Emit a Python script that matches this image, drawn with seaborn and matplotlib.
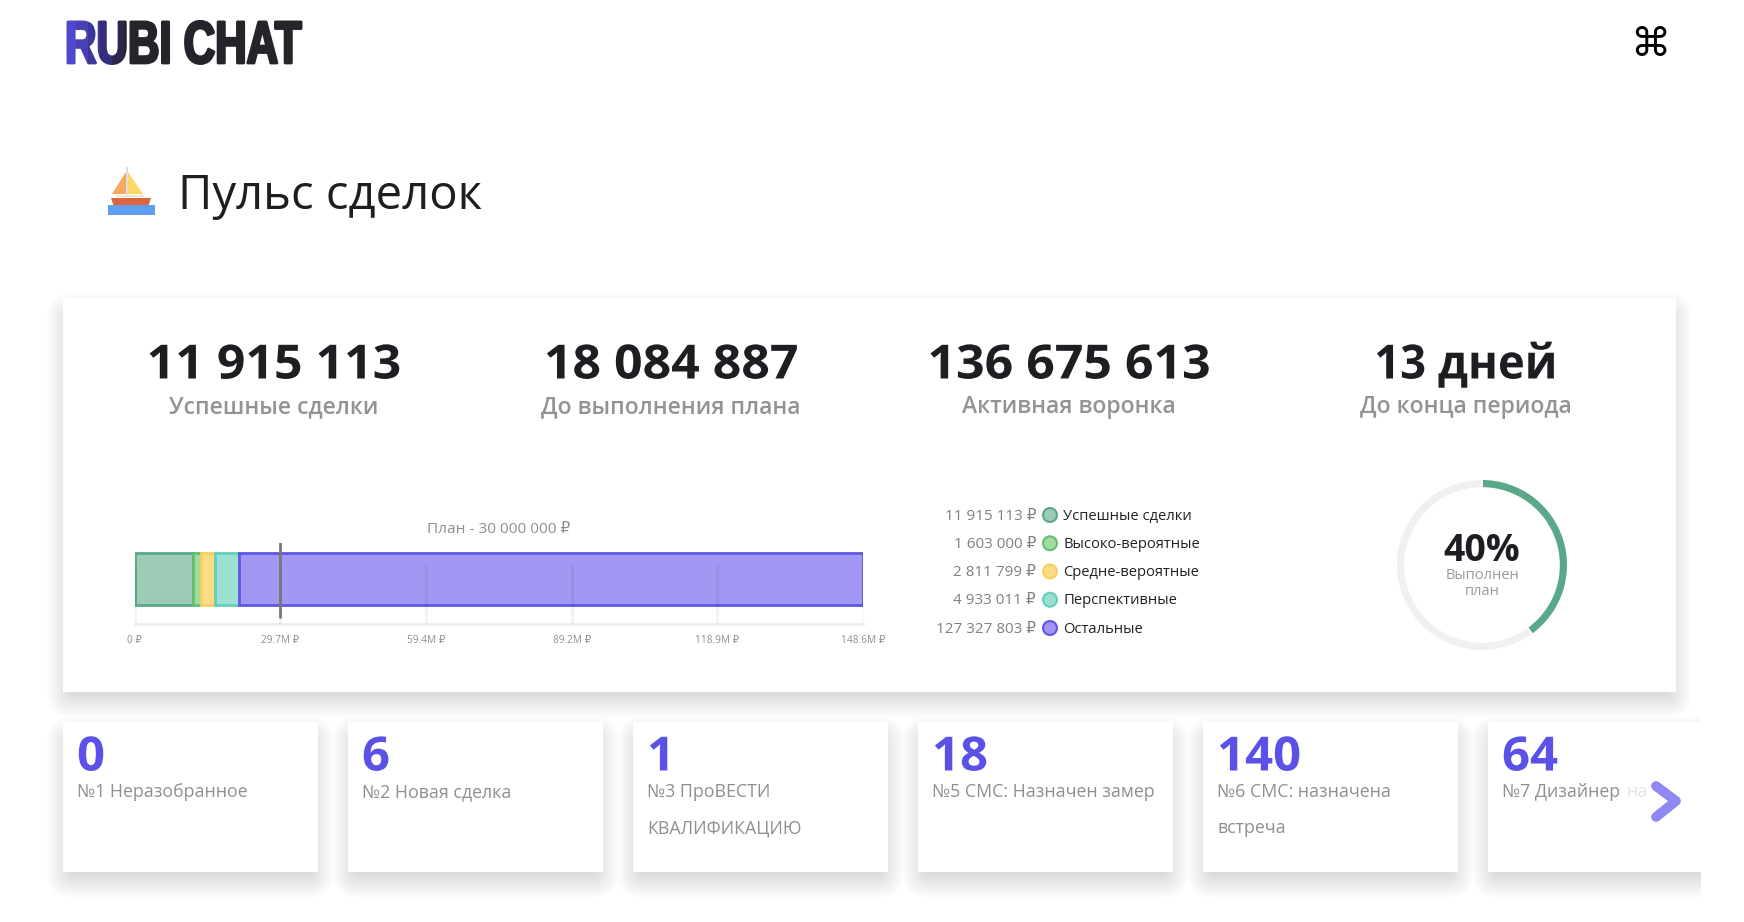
#!/usr/bin/env python
"""
Sales pulse dashboard: stacked funnel bar, legend, plan donut and stage cards
"""

import matplotlib
matplotlib.use('Agg')
import matplotlib.pyplot as plt
import matplotlib.patheffects as pe
import seaborn as sns
from matplotlib.colors import to_rgb
from matplotlib.patches import Rectangle, Polygon, FancyBboxPatch
from matplotlib.transforms import Affine2D, Bbox

W, H = 1744, 922
BASE_FONT = ['Open Sans', 'DejaVu Sans']

sns.set_style("white")
plt.rcParams['font.family'] = BASE_FONT

# Data
stat_values = ['11 915 113', '18 084 887', '136 675 613', '13 дней']
stat_labels = ['Успешные сделки', 'До выполнения плана', 'Активная воронка', 'До конца периода']
stat_stretch = [1.06, 1.06, 1.06, 0.96]

segment_names = ['Успешные сделки', 'Высоко-вероятные', 'Средне-вероятные', 'Перспективные', 'Остальные']
segment_amounts = [11915113, 1603000, 2811799, 4933011, 127327803]
segment_labels = ['11 915 113 ₽', '1 603 000 ₽', '2 811 799 ₽', '4 933 011 ₽', '127 327 803 ₽']
segment_fill = ['#9ccbb6', '#a0dc9f', '#fcdc85', '#9be0d1', '#a098f2']
segment_edge = ['#5aa88a', '#62c070', '#f8d060', '#62cfb8', '#5f55e6']

axis_ticks = [0, 29.7, 59.4, 89.2, 118.9, 148.6]
axis_labels = ['0 ₽', '29.7M ₽', '59.4M ₽', '89.2M ₽', '118.9M ₽', '148.6M ₽']
plan_value = 29.7
plan_label = 'План - 30 000 000 ₽'

plan_done = [40, 60]

card_numbers = ['0', '6', '1', '18', '140', '64']
card_lines = [['№1 Неразобранное'], ['№2 Новая сделка'], ['№3 ПроВЕСТИ', 'КВАЛИФИКАЦИЮ'],
              ['№5 СМС: Назначен замер'], ['№6 СМС: назначена', 'встреча'], ['№7 Дизайнер']]
card_left = [63, 348, 633, 918, 1203, 1488]

# colour bands of the logo, left to right, the last one runs to the end
logo_band_right = [76, 88, 100, 112, 124, 320]
logo_band_color = ['#5048cc', '#4840b4', '#3e379a', '#332e7c', '#2a2650', '#24242a']

BLUE = '#5b50e8'
GRAY = '#8f8f8f'
DARK = '#1c1e21'


class Squeeze(pe.AbstractPathEffect):
    # stretches a text around one x, there is no condensed font installed
    def __init__(self, sx, x0):
        super().__init__()
        self.sx = sx
        self.x0 = x0

    def transform(self, affine):
        return affine + Affine2D().translate(-self.x0, 0).scale(self.sx, 1).translate(self.x0, 0)

    def draw_path(self, renderer, gc, tpath, affine, rgbFace=None):
        renderer.draw_path(gc, tpath, self.transform(affine), rgbFace)


class LogoBands(Squeeze):
    # heavy condensed wordmark, the first letters fade from purple to black
    def draw_path(self, renderer, gc, tpath, affine, rgbFace=None):
        left = 0
        for right, color in zip(logo_band_right, logo_band_color):
            gc0 = renderer.new_gc()
            gc0.copy_properties(gc)
            gc0.set_clip_rectangle(Bbox([[left, 0], [right, H]]))
            gc0.set_foreground(color)
            gc0.set_linewidth(2.0)
            renderer.draw_path(gc0, tpath, self.transform(affine), to_rgb(color))
            gc0.restore()
            left = right


def px_axes(left, top, right, bottom):
    return fig.add_axes([left / W, 1 - bottom / H, (right - left) / W, (bottom - top) / H])


def card(ax, x0, y0, x1, y1):
    # stacked translucent boxes make the soft shadow
    steps = 20
    for i in range(steps):
        r = 16 - 28 * i / steps
        ax.add_patch(FancyBboxPatch((x0 - r, y0 + 10 - r), x1 - x0 + 2 * r, y1 - y0 + 2 * r,
                                    boxstyle='round,pad=0,rounding_size=%.1f' % max(r + 10, 1),
                                    fc='black', ec='none', alpha=0.0065, zorder=1))
    ax.add_patch(Rectangle((x0, y0), x1 - x0, y1 - y0, fc='white', ec='none', zorder=2))


fig = plt.figure(figsize=(W / 100, H / 100), dpi=100, facecolor='white')

# ============================================================================
# Page layer in pixel coordinates
# ============================================================================
page = fig.add_axes([0, 0, 1, 1])
page.set_xlim(0, W)
page.set_ylim(H, 0)
page.axis('off')

# Logo
page.text(65, 63, 'RUBI CHAT', fontsize=43, fontweight='bold', color='#24242a', va='baseline',
          family='Liberation Sans', zorder=5, path_effects=[LogoBands(0.73, 65)])

page.text(1650, 45, '⌘', fontsize=29, color='black', ha='center', va='center',
          family='DejaVu Sans', zorder=5)

# Boat icon
page.add_patch(Polygon([(126, 172), (126, 194), (112, 194)], fc='#f4a860', ec='none', zorder=3))
page.add_patch(Polygon([(128, 172), (128, 194), (143, 194)], fc='#fbd768', ec='none', zorder=3))
page.add_patch(Rectangle((126, 167), 2, 30, fc='#dddddd', ec='none', zorder=3))
page.add_patch(Rectangle((116, 195), 28, 2, fc='#f5e3c8', ec='none', zorder=3))
page.add_patch(Polygon([(111, 198), (151, 198), (148, 207), (114, 207)], fc='#dc6642', ec='none', zorder=3))
page.add_patch(Rectangle((108, 205), 47, 10, fc='#5f9ff0', ec='none', zorder=4))

page.text(178, 209, 'Пульс сделок', fontsize=34, color=DARK, va='baseline', zorder=5)

# Main card
card(page, 63, 298, 1676, 692)
for cx, value, label, stretch in zip([274, 671, 1069, 1466], stat_values, stat_labels, stat_stretch):
    page.text(cx, 366, value, fontsize=34, fontweight='bold', color=DARK, ha='center', va='center',
              zorder=5, path_effects=[Squeeze(stretch, cx)])
    page.text(cx, 407, label, fontsize=16.5, fontweight='semibold', color='#939393', ha='center', va='center', zorder=5)

page.text(499, 529, plan_label, fontsize=11.1, color=GRAY, ha='center', va='center', zorder=5)

# Small cards
for x0, number, lines in zip(card_left, card_numbers, card_lines):
    card(page, x0, 722, x0 + 255, 872)
    page.text(x0 + 14, 758, number, fontsize=34, fontweight='bold', color=BLUE, va='center', zorder=5,
              path_effects=[Squeeze(1.04, x0 + 14)])
    for k, line in enumerate(lines):
        page.text(x0 + 14, 792 + k * 36, line, fontsize=12.8, color=GRAY, va='center', zorder=5)

page.text(1626, 792, 'на', fontsize=12.8, color='#e4e4e4', va='center', zorder=5)

# The card row is clipped on the right, the arrow floats above it
page.add_patch(Rectangle((1701, 700), W - 1701, 222, fc='white', ec='none', zorder=6))
page.add_patch(Rectangle((0, 900), W, 22, fc='white', ec='none', zorder=6))
page.plot([1656, 1676, 1656], [786, 801, 817], color='#8f87f2', lw=7, solid_capstyle='round',
          solid_joinstyle='round', zorder=7)

# ============================================================================
# Stacked funnel bar
# ============================================================================
ax_bar = px_axes(134.5, 542.7, 863, 624)
ax_bar.patch.set_alpha(0)
offset = 0
for amount, fill, edge in zip(segment_amounts, segment_fill, segment_edge):
    value = amount / 1e6
    sns.barplot(x=[value], y=[0], orient='h', left=offset, color=fill, saturation=1,
                edgecolor=edge, linewidth=2, width=1, ax=ax_bar, zorder=3)
    offset += value

ax_bar.set_xlim(0, axis_ticks[-1])
ax_bar.set_ylim(0.86, -0.694)
ax_bar.vlines(axis_ticks, 0.86, -0.27, color=(0, 0, 0, 0.05), lw=2, zorder=4)
ax_bar.axvline(plan_value, ymin=0.086, ymax=1, color='#777777', lw=2, zorder=5)

ax_bar.set_xticks(axis_ticks)
ax_bar.set_xticklabels(axis_labels, fontsize=7.3, color=GRAY)
ax_bar.set_yticks([])
ax_bar.set_xlabel('')
ax_bar.set_ylabel('')
ax_bar.tick_params(axis='x', length=0, pad=8)
sns.despine(ax=ax_bar, left=True)
ax_bar.spines['bottom'].set_color('#eeeeee')
ax_bar.spines['bottom'].set_linewidth(2)

# ============================================================================
# Legend rows
# ============================================================================
ax_leg = px_axes(930, 502.3, 1250, 640.7)
ax_leg.patch.set_alpha(0)
rows = list(range(len(segment_names)))
sns.scatterplot(x=[0] * len(rows), y=rows, hue=rows, palette=segment_fill, legend=False,
                s=100, edgecolor=segment_edge, linewidth=1.5, ax=ax_leg, zorder=3)
ax_leg.set_xlim(-120, 200)
ax_leg.set_ylim(4.45, -0.45)
ax_leg.axis('off')
for row, amount_label, name in zip(rows, segment_labels, segment_names):
    ax_leg.text(-14, row + 0.04, amount_label, fontsize=11, color='#808080', ha='right', va='center')
    ax_leg.text(13, row + 0.04, name, fontsize=10.6, color='#222222', ha='left', va='center')

# ============================================================================
# Plan donut
# ============================================================================
ax_pie = px_axes(1392, 475, 1572, 655)
ax_pie.pie(plan_done, colors=['#5aa88a', '#f0f0f0'], startangle=90, counterclock=False, radius=1,
           wedgeprops=dict(width=0.1))
ax_pie.set_xlim(-1.05, 1.05)
ax_pie.set_ylim(-1.05, 1.05)
ax_pie.text(0, 0.16, '40%', fontsize=27, fontweight='bold', color=DARK, ha='center', va='center')
ax_pie.text(0, -0.125, 'Выполнен', fontsize=10.5, color='#9a9a9a', ha='center', va='center')
ax_pie.text(0, -0.31, 'план', fontsize=10.5, color='#9a9a9a', ha='center', va='center')

fig.savefig('out.png', dpi=100)
